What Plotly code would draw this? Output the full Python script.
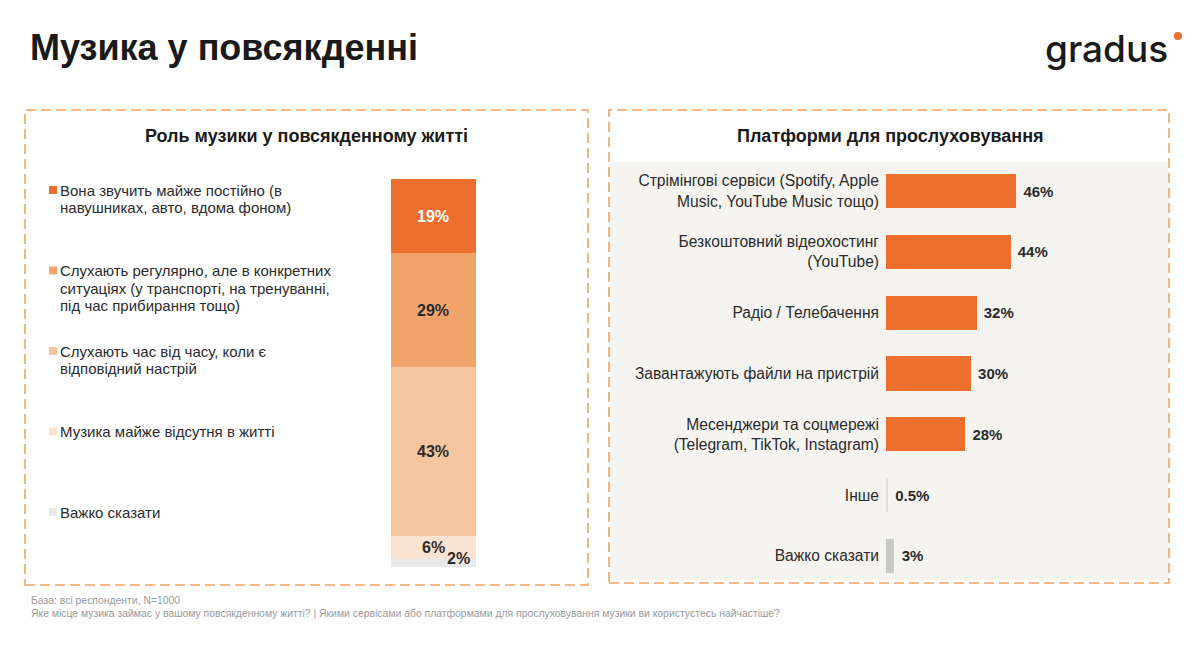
import plotly.graph_objects as go

W, H = 1200, 645

# ---------------- data ----------------
page_title = "Музика у повсякденні"
left_title = "Роль музики у повсякденному житті"
right_title = "Платформи для прослуховування"
logo_text = "gradus"

role_labels = [
    "Вона звучить майже постійно (в<br>навушниках, авто, вдома фоном)",
    "Слухають регулярно, але в конкретних<br>ситуаціях (у транспорті, на тренуванні,<br>під час прибирання тощо)",
    "Слухають час від часу, коли є<br>відповідний настрій",
    "Музика майже відсутня в житті",
    "Важко сказати",
]
role_values = [19, 29, 43, 6, 2]
role_text = ["19%", "29%", "43%", "6%", "2%"]

platform_labels = [
    "Стрімінгові сервіси (Spotify, Apple<br>Music, YouTube Music тощо)",
    "Безкоштовний відеохостинг<br>(YouTube)",
    "Радіо / Телебачення",
    "Завантажують файли на пристрій",
    "Месенджери та соцмережі<br>(Telegram, TikTok, Instagram)",
    "Інше",
    "Важко сказати",
]
platform_values = [46, 44, 32, 30, 28, 0.5, 3]
platform_text = ["46%", "44%", "32%", "30%", "28%", "0.5%", "3%"]

footnote_lines = [
    "База: всі респонденти, N=1000",
    "Яке місце музика займає у вашому повсякденному житті? | Якими сервісами або платформами для прослуховування музики ви користуєтесь найчастіше?",
]

# ---------------- styles ----------------
ORANGE = "#EC6F2D"
role_colors = ["#EC6F2D", "#F0A46C", "#F5C5A0", "#FBE3D1", "#E8E8E8"]
role_text_colors = ["#FFFFFF", "#2B2B2B", "#2B2B2B", "#2B2B2B", "#2B2B2B"]
platform_colors = [ORANGE, ORANGE, ORANGE, ORANGE, ORANGE, "#E2E0DC", "#C8C8C8"]
FONT = "Liberation Sans, Arial, sans-serif"
TXT = "#2B2B2B"


def px(x):
    return x / W


def py(y):
    return 1 - y / H


fig = go.Figure()

# ---- left stacked column (bottom to top) ----
for i in reversed(range(len(role_values))):
    fig.add_trace(go.Bar(
        x=[0], y=[role_values[i]], width=1,
        marker=dict(color=role_colors[i], line=dict(width=0)),
        name=role_labels[i], xaxis="x", yaxis="y",
        hoverinfo="skip", showlegend=False,
    ))

annotations = []
for i, v in enumerate(role_values):
    bottom = sum(role_values[i + 1:])
    mid = bottom + v / 2
    xs, ys = 0, 0
    if i == len(role_values) - 1:
        xs, ys = 25, 5
    annotations.append(dict(
        x=0, y=mid, xref="x", yref="y", text="<b>%s</b>" % role_text[i],
        showarrow=False, xshift=xs, yshift=ys,
        font=dict(family=FONT, size=16, color=role_text_colors[i]),
    ))

# ---- right horizontal bars ----
fig.add_trace(go.Bar(
    x=platform_values, y=platform_labels, orientation="h", width=0.56,
    marker=dict(color=platform_colors, line=dict(width=0)),
    text=["<b>\u00a0%s</b>" % t for t in platform_text], textposition="outside",
    textfont=dict(family=FONT, size=15, color=TXT), cliponaxis=False,
    xaxis="x2", yaxis="y2", hoverinfo="skip", showlegend=False,
))

# ---- legend (custom) ----
shapes = []
leg_first = 190      # centre of first text line of first item (px)
leg_step = 80.5
line_h = 17.5
for i, lab in enumerate(role_labels):
    c0 = leg_first + i * leg_step
    shapes.append(dict(type="rect", xref="paper", yref="paper",
                       x0=px(49), x1=px(57), y0=py(c0 + 4), y1=py(c0 - 4),
                       fillcolor=role_colors[i], line=dict(width=0)))
    for j, line in enumerate(lab.split("<br>")):
        annotations.append(dict(
            x=px(58), y=py(c0 + j * line_h), xref="paper", yref="paper", text=line,
            xanchor="left", yanchor="middle", align="left", showarrow=False,
            font=dict(family=FONT, size=15, color=TXT),
        ))

# ---- panels ----
shapes.insert(0, dict(type="rect", xref="paper", yref="paper", layer="below",
                      x0=px(610), x1=px(1168), y0=py(580), y1=py(162),
                      fillcolor="#F5F4F0", line=dict(width=0)))
for (x0, x1, y0, y1) in [(25, 588, 110, 585), (609, 1169, 110, 583)]:
    shapes.append(dict(type="rect", xref="paper", yref="paper",
                       x0=px(x0), x1=px(x1), y0=py(y1), y1=py(y0),
                       line=dict(color="#F0A262", width=1.6, dash="10px,5px"),
                       fillcolor="rgba(0,0,0,0)"))

# logo dot
shapes.append(dict(type="circle", xref="paper", yref="paper",
                   x0=px(1174), x1=px(1182), y0=py(40), y1=py(32),
                   fillcolor=ORANGE, line=dict(width=0)))

# titles
annotations += [
    dict(x=px(28), y=py(47), xref="paper", yref="paper", text="<b>%s</b>" % page_title,
         xanchor="left", yanchor="middle", showarrow=False,
         font=dict(family=FONT, size=36, color="#1A1A1A")),
    dict(x=px(306), y=py(136), xref="paper", yref="paper", text="<b>%s</b>" % left_title,
         xanchor="center", yanchor="middle", showarrow=False,
         font=dict(family=FONT, size=18, color="#1A1A1A")),
    dict(x=px(890), y=py(136), xref="paper", yref="paper", text="<b>%s</b>" % right_title,
         xanchor="center", yanchor="middle", showarrow=False,
         font=dict(family=FONT, size=18, color="#1A1A1A")),
    dict(x=px(1106), y=py(48), xref="paper", yref="paper", text=logo_text,
         xanchor="center", yanchor="middle", showarrow=False,
         font=dict(family="Inter, Lato, sans-serif", size=37, color="#1A1A1A", weight=500)),
    dict(x=px(29), y=py(600), xref="paper", yref="paper", text=footnote_lines[0],
         xanchor="left", yanchor="middle", showarrow=False,
         font=dict(family=FONT, size=10.4, color="#9A9A9A")),
    dict(x=px(29), y=py(613), xref="paper", yref="paper", text=footnote_lines[1],
         xanchor="left", yanchor="middle", showarrow=False,
         font=dict(family=FONT, size=10.4, color="#9A9A9A")),
]

fig.update_layout(
    width=W, height=H, margin=dict(l=0, r=0, t=0, b=0),
    paper_bgcolor="white", plot_bgcolor="rgba(0,0,0,0)",
    barmode="stack", showlegend=False,
    font=dict(family=FONT, color=TXT),
    xaxis=dict(domain=[px(391), px(476)], range=[-0.5, 0.5], visible=False, fixedrange=True),
    yaxis=dict(domain=[py(567), py(179)], range=[0, sum(role_values)], visible=False, fixedrange=True),
    xaxis2=dict(domain=[px(886), px(1160)], range=[0, 96.8], visible=False, anchor="y2", fixedrange=True),
    yaxis2=dict(domain=[py(586.4), py(160.6)], anchor="x2", autorange="reversed",
                showgrid=False, zeroline=False, showline=False, ticks="",
                ticklabelstandoff=6, tickfont=dict(family=FONT, size=15.6, color=TXT),
                fixedrange=True),
    shapes=shapes, annotations=annotations,
)

fig.write_html("out.html", config={"displayModeBar": False},
               post_script="document.body.style.margin='0';document.body.style.overflow='hidden';")
